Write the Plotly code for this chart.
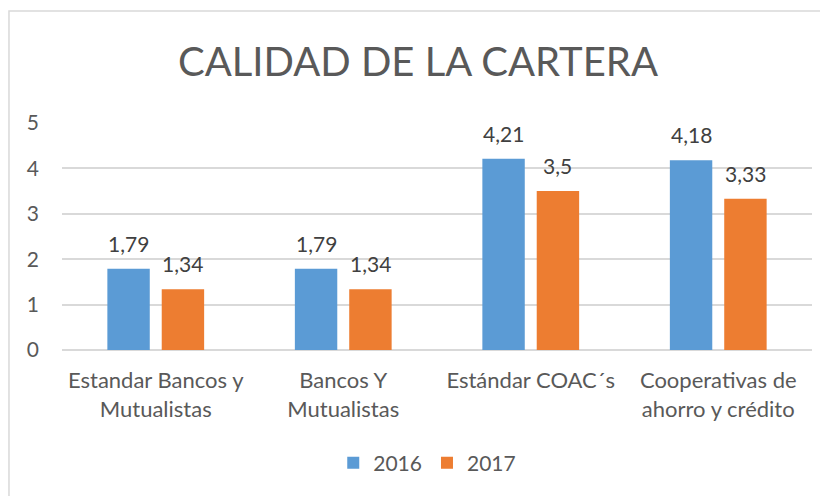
import plotly.graph_objs as go

# data
categorias = ['Estandar Bancos y<br>Mutualistas', 'Bancos Y<br>Mutualistas',
              'Estándar COAC´s', 'Cooperativas de<br>ahorro y crédito']
valores_2016 = [1.79, 1.79, 4.21, 4.18]
valores_2017 = [1.34, 1.34, 3.50, 3.33]
etiquetas_2016 = ['1,79', '1,79', '4,21', '4,18']
etiquetas_2017 = ['1,34', '1,34', '3,5', '3,33']

fuente = 'Lato, Open Sans, sans-serif'
gris = '#595959'

data = [
    go.Bar(x=categorias, y=valores_2016, name='2016',
           marker=dict(color='#5B9BD5', line=dict(width=0))),
    go.Bar(x=categorias, y=valores_2017, name='2017',
           marker=dict(color='#ED7D31', line=dict(width=0))),
]

# data labels above each bar (placed via the axes, shifted to each bar's slot)
etiquetas = []
for serie, (vals, txts) in enumerate([(valores_2016, etiquetas_2016),
                                      (valores_2017, etiquetas_2017)]):
    for cat, v, t in zip(categorias, vals, txts):
        etiquetas.append(dict(
            x=cat, y=v, text=t, showarrow=False,
            xshift=-27 if serie == 0 else 27, yshift=11,
            yanchor='bottom', xanchor='center',
            font=dict(size=21, color='#404040', family=fuente)))

layout = go.Layout(
    width=820, height=488,
    paper_bgcolor='white', plot_bgcolor='white',
    font=dict(family=fuente, color=gris, size=21),
    title=dict(text='CALIDAD DE LA CARTERA', x=0.5, xanchor='center',
               y=0.889, yanchor='middle',
               font=dict(size=40, color=gris, family=fuente)),
    margin=dict(l=54, r=16, t=115, b=146),
    barmode='group', bargap=0.42, bargroupgap=0.22,
    xaxis=dict(showgrid=False, showline=False, ticks='',
               ticklabelstandoff=15,
               tickfont=dict(size=22, color=gris)),
    yaxis=dict(range=[0, 5], dtick=1, showgrid=True, gridcolor='#d9d9d9',
               gridwidth=1.5, zeroline=True, zerolinecolor='#d9d9d9',
               zerolinewidth=1.5, showline=False, ticks='',
               ticklabelstandoff=22,
               tickfont=dict(size=21, color=gris)),
    legend=dict(orientation='h', x=0.487, xanchor='center', y=-0.498,
                yanchor='middle', font=dict(size=21, color=gris),
                itemwidth=30),
    annotations=etiquetas,
    shapes=[dict(type='rect', xref='paper', yref='paper',
                 x0=-0.0707, x1=1.2, y0=-1, y1=1.4934,
                 line=dict(color='#d9d9d9', width=1.5))],
)

fig = go.Figure(data=data, layout=layout)
fig.write_html('out.html')
